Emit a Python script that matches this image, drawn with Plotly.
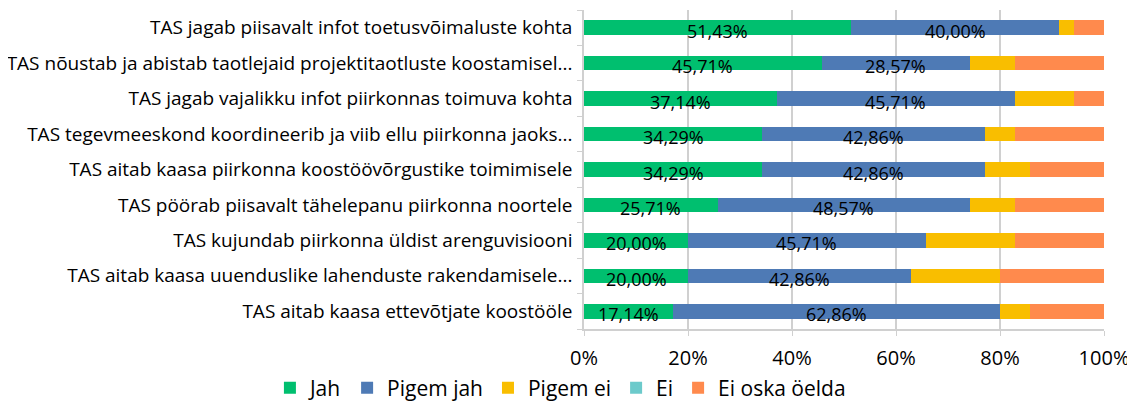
import plotly.graph_objects as go

categories = [
    "TAS jagab piisavalt infot toetusvõimaluste kohta",
    "TAS nõustab ja abistab taotlejaid projektitaotluste koostamisel...",
    "TAS jagab vajalikku infot piirkonnas toimuva kohta",
    "TAS tegevmeeskond koordineerib ja viib ellu piirkonna jaoks...",
    "TAS aitab kaasa piirkonna koostöövõrgustike toimimisele",
    "TAS pöörab piisavalt tähelepanu piirkonna noortele",
    "TAS kujundab piirkonna üldist arenguvisiooni",
    "TAS aitab kaasa uuenduslike lahenduste rakendamisele...",
    "TAS aitab kaasa ettevõtjate koostööle",
]
jah = [51.43, 45.71, 37.14, 34.29, 34.29, 25.71, 20.00, 20.00, 17.14]
pigem_jah = [40.00, 28.57, 45.71, 42.86, 42.86, 48.57, 45.71, 42.86, 62.86]
pigem_ei = [2.86, 8.57, 11.43, 5.71, 8.57, 8.57, 17.14, 17.14, 5.71]
ei = [0, 0, 0, 0, 0, 0, 0, 0, 0]
ei_oska = [5.71, 17.14, 5.71, 17.14, 14.29, 17.14, 17.14, 20.00, 14.29]

series = [
    ("Jah", jah, "#00BF6F"),
    ("Pigem jah", pigem_jah, "#4E7AB5"),
    ("Pigem ei", pigem_ei, "#F9BE00"),
    ("Ei", ei, "#6CCACB"),
    ("Ei oska öelda", ei_oska, "#FF8A4D"),
]

FONT = "Open Sans"
fig = go.Figure()
for name, vals, color in series:
    fig.add_trace(go.Bar(
        y=categories, x=vals, name=name, orientation="h",
        marker=dict(color=color, line=dict(width=0)),
        width=0.41,
    ))

# data labels for Jah and Pigem jah
annotations = []
for i, c in enumerate(categories):
    annotations.append(dict(x=jah[i] / 2, y=c, xref="x", yref="y",
                            text=f"{jah[i]:.2f}%".replace(".", ","),
                            showarrow=False, yshift=-3,
                            font=dict(family=FONT, size=18, color="#000000")))
    annotations.append(dict(x=jah[i] + pigem_jah[i] / 2, y=c, xref="x", yref="y",
                            text=f"{pigem_jah[i]:.2f}%".replace(".", ","),
                            showarrow=False, yshift=-3,
                            font=dict(family=FONT, size=18, color="#000000")))

fig.update_layout(
    barmode="stack",
    width=1127, height=397,
    margin=dict(l=576, r=31, t=2, b=76, autoexpand=False),
    paper_bgcolor="white", plot_bgcolor="white",
    font=dict(family=FONT, size=16, color="#000000"),
    showlegend=True,
    legend=dict(orientation="h", xref="paper", yref="paper",
                x=-0.604, xanchor="left", y=-0.185, yanchor="middle",
                traceorder="normal",
                font=dict(family=FONT, size=21, color="#000000"),
                itemwidth=30),
    annotations=annotations,
)
fig.update_xaxes(range=[0, 100], dtick=20, ticksuffix="%",
                 showgrid=True, gridcolor="#D0D0D0", gridwidth=1.5,
                 showline=True, linecolor="#D0D0D0", linewidth=1.5,
                 ticks="outside", ticklen=5, tickcolor="#D0D0D0",
                 ticklabelstandoff=5,
                 tickfont=dict(family=FONT, size=20, color="#000000"),
                 zeroline=False, fixedrange=True)
fig.update_yaxes(categoryorder="array", categoryarray=categories[::-1],
                 showline=True, linecolor="#D0D0D0", linewidth=1.5,
                 ticks="outside", ticklen=5, tickcolor="#D0D0D0",
                 tickson="boundaries", showgrid=False,
                 ticklabelstandoff=6,
                 tickfont=dict(family=FONT, size=19, color="#000000"),
                 automargin=False)

fig.write_html("out.html")
